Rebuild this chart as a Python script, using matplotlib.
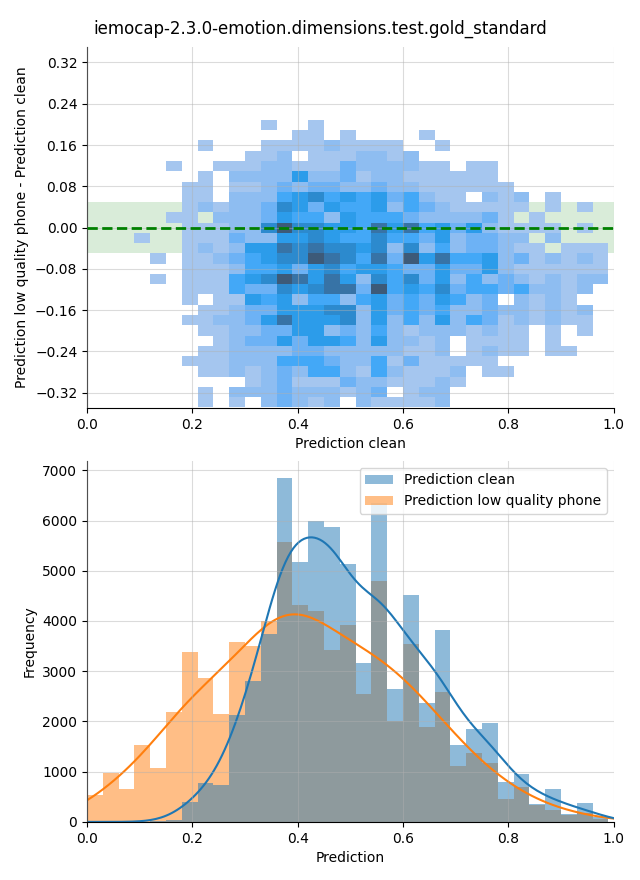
import matplotlib.pyplot as plt
import numpy as np
import seaborn as sns

title = "iemocap-2.3.0-emotion.dimensions.test.gold_standard"

# top panel: 2d histogram, one string per row of cells (top row first),
# each digit is the shade level (0 = empty cell)
x_edge_start, x_bin = 0.09, 0.03
y_edge_start, y_bin = -0.3486, 0.0199
shade_rows = [
    "0000000010 0100000000 0000000000",
    "0000000000 1101000010 0000000000",
    "0000100011 1121111001 0000000000",
    "0000000112 0111221200 0000000000",
    "0010011122 1113222211 0110000000",
    "0000102222 5223122111 1110000000",
    "0001101123 2332232211 1111000000",
    "0001102224 5645453421 1021201000",
    "0001212236 5354452432 1111101010",
    "0011022235 4425444322 2231010000",
    "0001112268 6655475745 3521111010",
    "1001113225 5654464435 2332202000",
    "0001212557 6766562624 2332110111",
    "0101123456 6876473857 4452312121",
    "0001112445 3564554335 3352111111",
    "0101114568 7575264635 2423212122",
    "0001114336 5677384546 3443422120",
    "0001011545 2442453435 4230212100",
    "0000112335 5566253434 2232212120",
    "0001122357 5556252425 2431212110",
    "0000112233 5523242122 2121101010",
    "0000012335 3554252212 0111101000",
    "0000112222 3322222112 0121101100",
    "0001112224 4432241311 1110000000",
    "0000112123 2442142111 2011000000",
    "0000000123 1113221112 1000000000",
    "0000102223 2221230122 0000000000",
    "0000101023 2120211112 0000000000",
]
shade_to_count = [0, 3, 11, 21, 30, 40, 55, 74, 95]

# bottom panel: histogram counts per bin (bins 0.00 .. 0.99, width 0.03)
hist_bin = 0.03
clean_counts = [0, 0, 0, 0, 10, 40, 388, 769, 729, 2133, 2815, 3737, 6846,
                5181, 5984, 5877, 5141, 3156, 6350, 2654, 4520, 2373, 3818,
                1531, 1852, 1972, 789, 949, 350, 649, 150, 368, 100]
phone_counts = [535, 969, 649, 1531, 1070, 2193, 3376, 2855, 2153, 3577, 3510,
                3998, 5563, 4319, 4199, 3417, 3918, 2554, 4800, 2012, 3537,
                1892, 2594, 1110, 1371, 1170, 448, 689, 340, 247, 140, 180, 60]


fig, (ax1, ax2) = plt.subplots(2, 1, figsize=(6.4, 8.8), dpi=100)
fig.subplots_adjust(left=0.136, right=0.959, top=0.9466, bottom=0.066, hspace=0.146)
fig.suptitle(title, y=0.978)

# --- top: difference vs clean prediction
levels = np.array([[int(c) for c in r.replace(" ", "")] for r in shade_rows])[::-1]
ny, nx = levels.shape
x_edges = x_edge_start + x_bin * np.arange(nx + 1)
y_edges = y_edge_start + y_bin * np.arange(ny + 1)
xc = (x_edges[:-1] + x_edges[1:]) / 2
yc = (y_edges[:-1] + y_edges[1:]) / 2
gx, gy = np.meshgrid(xc, yc)
cell_w = np.array(shade_to_count)[levels]

ax1.axhspan(-0.05, 0.05, color="green", alpha=0.15, lw=0)
sns.histplot(x=gx.ravel(), y=gy.ravel(), weights=cell_w.ravel(),
             bins=[x_edges, y_edges], vmin=0, vmax=100, ax=ax1)
ax1.axhline(0, color="green", ls="--", lw=2, zorder=3)
ax1.set_xlim(0, 1)
ax1.set_ylim(-0.35, 0.35)
ax1.yaxis.set_major_locator(plt.MultipleLocator(0.08))
ax1.set_xlabel("Prediction clean")
ax1.set_ylabel("Prediction low quality phone - Prediction clean")
ax1.set_axisbelow(False)
ax1.grid(True, alpha=0.45)

# --- bottom: distributions
n_bins = len(clean_counts)
centers = hist_bin * (np.arange(n_bins) + 0.5)
top_edge = round(hist_bin * n_bins, 2)
sns.histplot(x=centers, weights=phone_counts, binwidth=hist_bin, binrange=(0, top_edge),
             kde=True, color="C1", alpha=0.5, linewidth=0,
             kde_kws={"bw_adjust": 0.65, "cut": 1, "clip": (0, 1)},
             label="Prediction low quality phone", ax=ax2)
sns.histplot(x=centers, weights=clean_counts, binwidth=hist_bin, binrange=(0, top_edge),
             kde=True, color="C0", alpha=0.5, linewidth=0,
             kde_kws={"bw_adjust": 0.45, "cut": 1, "clip": (0, 1)},
             label="Prediction clean", ax=ax2)
h, l = ax2.get_legend_handles_labels()
ax2.legend(h[::-1], l[::-1], loc="upper right")
ax2.set_xlim(0, 1)
ax2.set_xlabel("Prediction")
ax2.set_ylabel("Frequency")
ax2.set_axisbelow(False)
ax2.grid(True, alpha=0.45)

for ax in (ax1, ax2):
    ax.spines["top"].set_visible(False)
    ax.spines["right"].set_visible(False)

plt.savefig("out.png")
